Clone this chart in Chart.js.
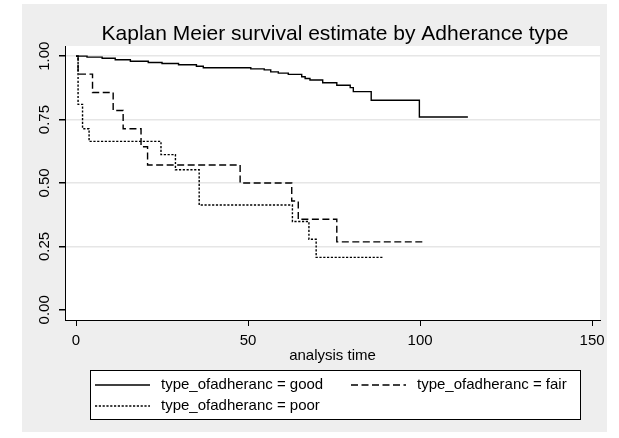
<!DOCTYPE html>
<html>
<head>
<meta charset="utf-8">
<script src="https://cdn.jsdelivr.net/npm/chart.js@4.4.1/dist/chart.umd.min.js"></script>
<style>
html,body{margin:0;padding:0;background:#fff;}
#km{display:block;}
</style>
</head>
<body>
<canvas id="km" width="619" height="438"></canvas>
<script>
/* KM estimates per adherence group: time, survival */
var goodTime = [0, 3.2, 7.6, 11.4, 15.8, 21, 25, 29.8, 35, 37, 50.8, 54.7, 56.6, 58.8, 61.7, 65.6, 66.6, 68, 71.7, 75.8, 79.7, 80.6, 85.8, 99.8, 113.9];
var goodSurv = [1, 0.996, 0.992, 0.986, 0.980, 0.975, 0.971, 0.966, 0.960, 0.954, 0.950, 0.946, 0.938, 0.933, 0.928, 0.919, 0.912, 0.906, 0.895, 0.885, 0.876, 0.860, 0.826, 0.760, 0.760];
var fairTime = [0, 0.6, 4.8, 10.8, 13.7, 18.9, 20.8, 47.7, 62.7, 64.6, 75.8, 100.8];
var fairSurv = [1, 0.929, 0.857, 0.786, 0.714, 0.643, 0.571, 0.500, 0.429, 0.357, 0.268, 0.268];
var poorTime = [0, 0.6, 1.9, 3.8, 24.7, 28.9, 35.8, 62.9, 67.7, 69.8, 89.5];
var poorSurv = [1, 0.81, 0.714, 0.664, 0.612, 0.552, 0.413, 0.348, 0.278, 0.207, 0.207];

var groupLabels = ['type_ofadheranc = good', 'type_ofadheranc = fair', 'type_ofadheranc = poor'];
var xTicks = [0, 50, 100, 150];
var yTicks = [0, 0.25, 0.5, 0.75, 1];
var titleText = 'Kaplan Meier survival estimate by Adherance type';
var xTitle = 'analysis time';

var fontFam = '"Liberation Sans", Arial, sans-serif';
Chart.defaults.font.family = fontFam;
Chart.defaults.color = '#000';

function toPoints(t, s) {
    var pts = [];
    for (var i = 0; i < t.length; i++) {
        pts.push({x: t[i], y: s[i]});
    }
    return pts;
}

/*背景: 灰色底板 + 白色绘图区*/
var panelBg = {
    id: 'panelBg',
    beforeDraw: function(chart) {
        var ctx = chart.ctx, a = chart.chartArea;
        ctx.save();
        ctx.fillStyle = '#fff';
        ctx.fillRect(0, 0, chart.width, chart.height);
        ctx.fillStyle = '#eeeeee';
        ctx.fillRect(22, 4, 585, 428);
        ctx.fillStyle = '#fff';
        ctx.fillRect(a.left, a.top, a.right - a.left, a.bottom - a.top);
        ctx.restore();
    }
};

/*标题, 竖排y轴刻度, 图例框*/
var extras = {
    id: 'extras',
    afterDraw: function(chart) {
        var ctx = chart.ctx;
        var ys = chart.scales.y;
        ctx.save();
        ctx.fillStyle = '#000';
        ctx.font = '21px ' + fontFam;
        ctx.textAlign = 'center';
        ctx.textBaseline = 'alphabetic';
        ctx.fillText(titleText, 335, 40);

        ctx.font = '15px ' + fontFam;
        ctx.textBaseline = 'middle';
        for (var i = 0; i < yTicks.length; i++) {
            var py = ys.getPixelForValue(yTicks[i]);
            ctx.save();
            ctx.translate(45, py);
            ctx.rotate(-Math.PI / 2);
            ctx.fillText(yTicks[i].toFixed(2), 0, 0);
            ctx.restore();
        }

        // legend
        var bx = 90, by = 370, bw = 490, bh = 49;
        ctx.fillStyle = '#fff';
        ctx.fillRect(bx, by, bw, bh);
        ctx.strokeStyle = '#000';
        ctx.lineWidth = 1;
        ctx.strokeRect(bx + 0.5, by + 0.5, bw, bh);
        var slots = [[95, 385], [351, 385], [95, 406]];
        ctx.textAlign = 'left';
        for (var j = 0; j < chart.data.datasets.length; j++) {
            var ds = chart.data.datasets[j];
            var sx = slots[j][0], sy = slots[j][1];
            ctx.beginPath();
            ctx.setLineDash(ds.borderDash || []);
            ctx.lineWidth = ds.borderWidth;
            ctx.strokeStyle = ds.borderColor;
            ctx.moveTo(sx, sy);
            ctx.lineTo(sx + 55, sy);
            ctx.stroke();
            ctx.setLineDash([]);
            ctx.fillStyle = '#000';
            ctx.fillText(ds.label, sx + 66, sy);
        }
        ctx.restore();
    }
};

var ctx = document.getElementById('km').getContext('2d');
var kmChart = new Chart(ctx, {
    type: 'line',
    data: {
        datasets: [{
            label: groupLabels[0],
            data: toPoints(goodTime, goodSurv),
            borderColor: '#000',
            borderWidth: 1.4,
            stepped: true,
            pointRadius: 0
        }, {
            label: groupLabels[1],
            data: toPoints(fairTime, fairSurv),
            borderColor: '#000',
            borderWidth: 1.4,
            borderDash: [7, 3.5],
            stepped: true,
            pointRadius: 0
        }, {
            label: groupLabels[2],
            data: toPoints(poorTime, poorSurv),
            borderColor: '#000',
            borderWidth: 1.4,
            borderDash: [2.2, 1.6],
            stepped: true,
            pointRadius: 0
        }]
    },
    options: {
        responsive: false,
        animation: false,
        layout: {
            padding: {left: 59, right: 19, top: 46, bottom: 75}
        },
        plugins: {
            legend: {display: false},
            title: {display: false},
            tooltip: {enabled: false}
        },
        scales: {
            x: {
                type: 'linear',
                min: -3.2,
                max: 152.3,
                afterBuildTicks: function(scale) {
                    scale.ticks = xTicks.map(function(v) { return {value: v}; });
                },
                afterFit: function(scale) { scale.height = 43; },
                ticks: {
                    font: {size: 15},
                    padding: 6,
                    maxRotation: 0,
                    autoSkip: false
                },
                grid: {
                    drawOnChartArea: false,
                    tickLength: 6,
                    tickColor: '#000'
                },
                border: {color: '#000', width: 1},
                title: {
                    display: true,
                    text: xTitle,
                    font: {size: 15, lineHeight: 1},
                    padding: {top: 0, bottom: 0}
                }
            },
            y: {
                min: -0.04,
                max: 1.04,
                afterBuildTicks: function(scale) {
                    scale.ticks = yTicks.map(function(v) { return {value: v}; });
                },
                afterFit: function(scale) { scale.width = 6; },
                ticks: {display: false},
                grid: {
                    color: function(c) { return c.tick && c.tick.value === 0 ? 'rgba(0,0,0,0)' : '#e6e6e6'; },
                    lineWidth: 1.5,
                    tickLength: 6,
                    tickColor: '#000'
                },
                border: {color: '#000', width: 1}
            }
        }
    },
    plugins: [panelBg, extras]
});
</script>
</body>
</html>
